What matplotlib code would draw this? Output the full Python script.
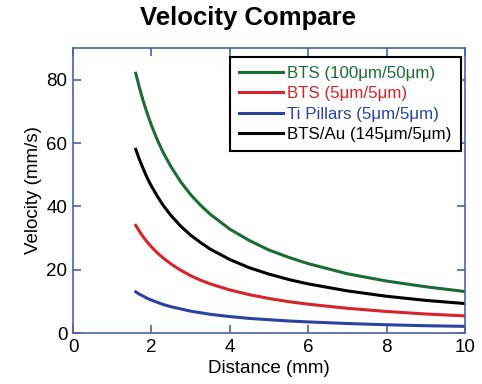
import matplotlib
matplotlib.use("Agg")
import matplotlib.pyplot as plt

plt.rcParams['font.family'] = ['Liberation Sans', 'DejaVu Sans']

# distance (mm)
dist = [1.6, 1.7, 1.8, 1.9, 2.0, 2.15, 2.3, 2.5, 2.75, 3.0, 3.25, 3.5, 4.0, 4.5, 5.0,
        5.5, 6.0, 7.0, 8.0, 9.0, 10.0]

# velocity (mm/s)
v_bts_100 = [82, 77.2, 72.9, 69.1, 65.6, 61.0, 57.0, 52.5, 47.7, 43.7, 40.4, 37.5, 32.8,
             29.2, 26.2, 23.9, 21.9, 18.7, 16.4, 14.6, 13.1]
v_bts_5 = [34, 32.0, 30.2, 28.6, 27.2, 25.3, 23.7, 21.8, 19.8, 18.1, 16.7, 15.5, 13.6,
           12.1, 10.9, 9.9, 9.1, 7.8, 6.8, 6.0, 5.4]
v_ti = [13, 12.2, 11.6, 10.9, 10.4, 9.7, 9.0, 8.3, 7.6, 6.9, 6.4, 5.9, 5.2,
        4.6, 4.2, 3.8, 3.5, 3.0, 2.6, 2.3, 2.1]
v_bts_au = [58, 54.6, 51.6, 48.8, 46.4, 43.2, 40.3, 37.1, 33.7, 30.9, 28.6, 26.5, 23.2,
            20.6, 18.6, 16.9, 15.5, 13.3, 11.6, 10.3, 9.3]

labels = ['BTS (100\u03bcm/50\u03bcm)', 'BTS (5\u03bcm/5\u03bcm)',
          'Ti Pillars (5\u03bcm/5\u03bcm)', 'BTS/Au (145\u03bcm/5\u03bcm)']
colors = ['#1b6b37', '#d7232a', '#2b43a0', '#000000']

fig = plt.figure(figsize=(4.82, 3.84), dpi=100)
ax = fig.add_axes([0.1515, 0.1328, 0.8132, 0.7422])

for v, lab, c in zip([v_bts_100, v_bts_5, v_ti, v_bts_au], labels, colors):
    ax.plot(dist, v, color=c, lw=2.2, label=lab)

ax.set_xlim(0, 10)
ax.set_ylim(0, 90)
ax.set_xticks([0, 2, 4, 6, 8, 10])
ax.set_yticks([0, 20, 40, 60, 80])

spine_c = '#4a62ad'
for s in ax.spines.values():
    s.set_color(spine_c)
    s.set_linewidth(1.2)
ax.tick_params(direction='in', top=True, right=True, length=6, width=1.2,
               color=spine_c, labelsize=13.5, pad=4)

ax.set_xlabel('Distance (mm)', fontsize=13.5, labelpad=3)
ax.set_ylabel('Velocity (mm/s)', fontsize=13.5, labelpad=3)
fig.text(0.515, 0.952, 'Velocity Compare', ha='center', va='center',
         fontsize=18.5, fontweight='bold')

leg = ax.legend(loc='upper right', bbox_to_anchor=(0.99, 0.97), fontsize=12.2,
                frameon=True, fancybox=False, framealpha=1, edgecolor='black',
                handlelength=2.6, handletextpad=0.25, borderpad=0.55,
                labelspacing=0.32, borderaxespad=0)
leg.get_frame().set_linewidth(1.5)
for t, c in zip(leg.get_texts(), colors):
    t.set_color(c)

fig.savefig('out.png', dpi=100)
